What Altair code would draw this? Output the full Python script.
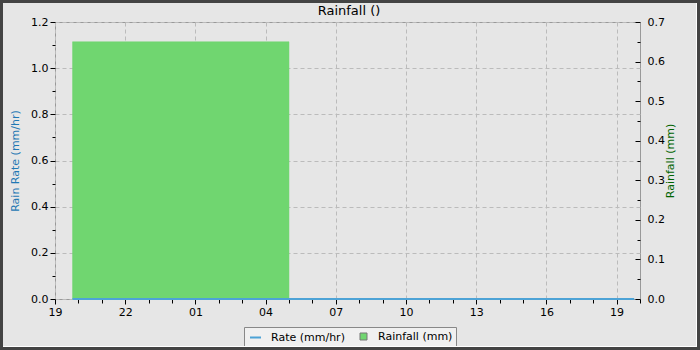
import altair as alt
import pandas as pd

# ---------------- data ----------------
chart_title = "Rainfall ()"
rain_start = ["2024-01-01T19:45:00"]
rain_end = ["2024-01-02T05:00:00"]
rain_mm = [0.65]
rain_series = ["Rainfall (mm)"]

rate_times = [
    "2024-01-01T19:45:00", "2024-01-01T20:45:00", "2024-01-01T21:45:00",
    "2024-01-01T22:45:00", "2024-01-01T23:45:00", "2024-01-02T00:45:00",
    "2024-01-02T01:45:00", "2024-01-02T02:45:00", "2024-01-02T03:45:00",
    "2024-01-02T04:45:00", "2024-01-02T05:45:00", "2024-01-02T06:45:00",
    "2024-01-02T07:45:00", "2024-01-02T08:45:00", "2024-01-02T09:45:00",
    "2024-01-02T10:45:00", "2024-01-02T11:45:00", "2024-01-02T12:45:00",
    "2024-01-02T13:45:00", "2024-01-02T14:45:00", "2024-01-02T15:45:00",
    "2024-01-02T16:45:00", "2024-01-02T17:45:00", "2024-01-02T18:45:00",
    "2024-01-02T19:45:00",
]
rate_values = [0.0, 0.0, 0.0, 0.0, 0.0, 0.0, 0.0, 0.0, 0.0, 0.0, 0.0, 0.0,
               0.0, 0.0, 0.0, 0.0, 0.0, 0.0, 0.0, 0.0, 0.0, 0.0, 0.0, 0.0, 0.0]
rate_series = "Rate (mm/hr)"

# x tick positions (date, hour)
x_tick_days = [1, 1, 1, 1, 1, 2, 2, 2, 2, 2, 2, 2, 2, 2, 2, 2, 2, 2, 2, 2, 2, 2, 2, 2, 2, 2]
x_tick_hours = [19, 20, 21, 22, 23, 0, 1, 2, 3, 4, 5, 6, 7, 8, 9, 10, 11, 12,
                13, 14, 15, 16, 17, 18, 19, 20]
rate_ticks = [0.0, 0.1, 0.2, 0.3, 0.4, 0.5, 0.6, 0.7, 0.8, 0.9, 1.0, 1.1, 1.2]
rain_label_ticks = [0.0, 0.1, 0.2, 0.3, 0.4, 0.5, 0.6, 0.7]
rain_minor_ticks = [0.0, 0.05, 0.1, 0.15, 0.2, 0.25, 0.3, 0.35, 0.4, 0.45,
                    0.5, 0.55, 0.6, 0.65, 0.7]

# ---------------- frames ----------------
rain_df = pd.DataFrame({"start": rain_start, "end": rain_end,
                        "rain": rain_mm, "series": rain_series})
rate_df = pd.DataFrame({"time": rate_times, "rate": rate_values})
rate_df["series"] = rate_series

FONT = "DejaVu Sans"
BG = "#e6e6e6"
GREEN = "#70d670"
BLUE = "#4da3d6"
W, H = 585, 277

x_vals = [alt.DateTime(year=2024, month=1, date=d, hours=h)
          for d, h in zip(x_tick_days, x_tick_hours)]
x_domain = [x_vals[0], x_vals[-1]]

major_x = "hours(datum.value) % 3 == 1"
x_axis = alt.Axis(
    values=x_vals, title=None, domain=False, labelOverlap=False,
    labelFlush=False, labelBound=False,
    labelExpr=f"{major_x} ? timeFormat(datum.value, '%H') : ''",
    tickSize={"condition": {"test": major_x, "value": 5}, "value": 4},
    gridOpacity={"condition": {"test": major_x, "value": 1}, "value": 0},
    grid=True, gridDash=[4, 3], gridColor="#bbbbbb", labelPadding=2,
)
x_scale = alt.Scale(domain=x_domain, nice=False)

legend_common = dict(title=None, orient="none", direction="horizontal", padding=0,
                     labelFont=FONT, labelFontSize=11, labelColor="#000000",
                     labelOffset=9)

bars = alt.Chart(rain_df).mark_rect(stroke=GREEN, strokeWidth=0.5).encode(
    x=alt.X("start:T", scale=x_scale, axis=x_axis),
    x2="end:T",
    y=alt.Y("rain:Q", scale=alt.Scale(domain=[0, 0.7], nice=False),
            axis=alt.Axis(orient="right", values=rain_label_ticks, format=".1f",
                          ticks=False, labelPadding=7, domain=False, grid=False,
                          title="Rainfall (mm)", titleColor="#006400",
                          titleAngle=270, titlePadding=11)),
    y2=alt.datum(0),
    fill=alt.Fill("series:N", scale=alt.Scale(range=[GREEN]),
                  legend=alt.Legend(legendX=303, legendY=309, symbolType="square",
                                    symbolSize=49, symbolStrokeColor="#777777",
                                    symbolStrokeWidth=1, **legend_common)),
)

major_y = "round(datum.value * 10) % 2 == 0"
line = alt.Chart(rate_df).mark_line(strokeWidth=2).encode(
    x=alt.X("time:T", scale=x_scale, axis=x_axis),
    y=alt.Y("rate:Q", scale=alt.Scale(domain=[0, 1.2], nice=False),
            axis=alt.Axis(orient="left", values=rate_ticks, domain=False,
                          labelExpr=f"{major_y} ? format(datum.value, '.1f') : ''",
                          tickSize={"condition": {"test": major_y, "value": 5}, "value": 3},
                          gridOpacity={"condition": {"test": major_y, "value": 1}, "value": 0},
                          grid=True, gridDash=[4, 3], gridColor="#bbbbbb",
                          labelPadding=2, labelOverlap=False,
                          title="Rain Rate (mm/hr)", titleColor="#1f78b4",
                          titlePadding=10)),
    stroke=alt.Stroke("series:N", scale=alt.Scale(range=[BLUE]),
                      legend=alt.Legend(legendX=194, legendY=309, symbolType="stroke",
                                        symbolSize=121, symbolStrokeWidth=2,
                                        **legend_common)),
)

major_r = "round(datum.value * 20) % 2 == 0"
rticks = alt.Chart(rain_df).mark_point(opacity=0).encode(
    x=alt.X("start:T", scale=x_scale, axis=x_axis),
    y=alt.Y("rain:Q", scale=alt.Scale(domain=[0, 0.7], nice=False),
            axis=alt.Axis(orient="left", offset=-W, values=rain_minor_ticks,
                          labels=False, domain=False, grid=False, title=None,
                          tickSize={"condition": {"test": major_r, "value": 5}, "value": 3})),
)

frame_df = pd.DataFrame({"k": [0]})
title_mark = alt.Chart(frame_df).mark_text(
    font=FONT, fontSize=13, color="#000000", baseline="alphabetic", align="center"
).encode(x=alt.value(W / 2 + 1.5), y=alt.value(-7), text=alt.value(chart_title))
legend_box = alt.Chart(frame_df).mark_rect(fill="#f0f0f0", stroke="#888888", strokeWidth=1).encode(
    x=alt.value(189.5), x2=alt.value(401.5), y=alt.value(305.5), y2=alt.value(325.5))
frame = alt.Chart(frame_df).mark_rect(fillOpacity=0, stroke="#444444", strokeWidth=3).encode(
    x=alt.value(-53.5), x2=alt.value(643.5), y=alt.value(-20.5), y2=alt.value(326.5))
bevel_v = alt.Chart(frame_df).mark_rule(color="#ffffff", strokeWidth=1).encode(
    x=alt.value(641.5), y=alt.value(-19), y2=alt.value(325))
bevel_h = alt.Chart(frame_df).mark_rule(color="#ffffff", strokeWidth=1).encode(
    y=alt.value(324.5), x=alt.value(-52), x2=alt.value(642))

chart = alt.layer(bars, line, rticks, title_mark, legend_box, bevel_v, bevel_h, frame).resolve_scale(
    y="independent"
).properties(
    width=W, height=H,
    padding={"left": 55, "top": 22, "right": 60, "bottom": 51},
    autosize=alt.AutoSizeParams(type="none"),
    background=BG,
).configure_view(
    stroke="#999999", strokeWidth=1, fill=BG
).configure_axis(
    labelFont=FONT, labelFontSize=11, labelColor="#000000", tickColor="#000000",
    titleFont=FONT, titleFontSize=11, titleFontWeight="normal",
)

chart.save("out.html", embed_options={"renderer": "svg", "actions": False})
